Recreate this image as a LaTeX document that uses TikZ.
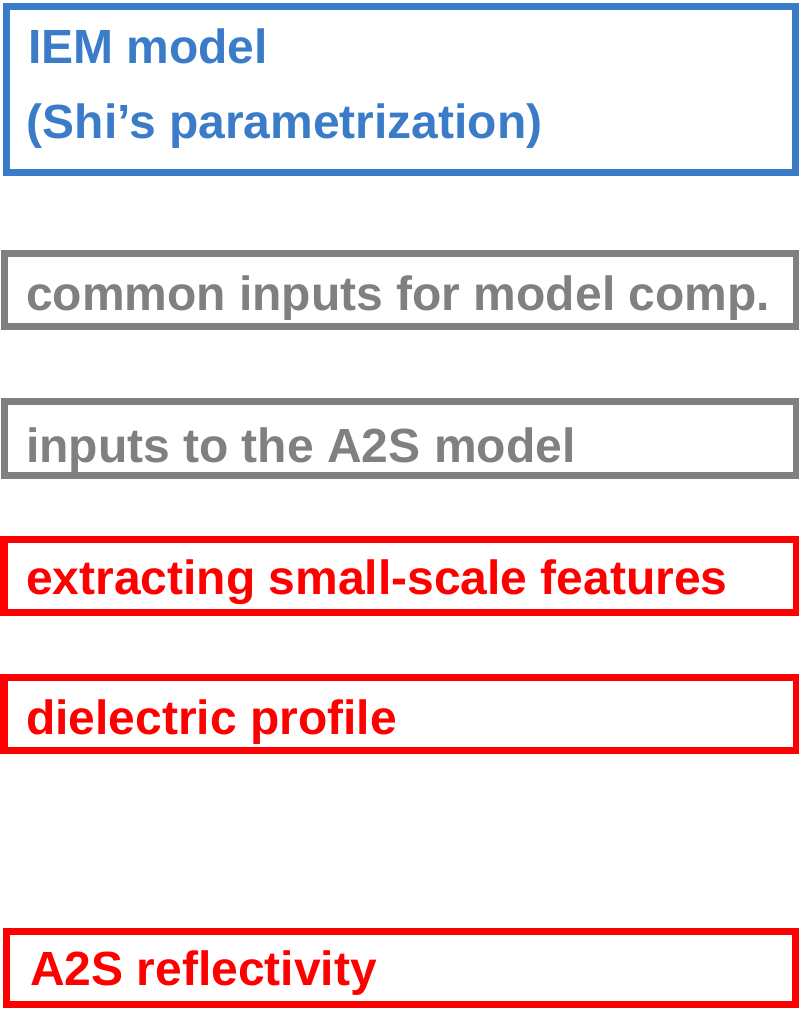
\documentclass[tikz,border=0pt]{standalone}
\usepackage{fontspec}
\setmainfont{Liberation Sans}
\definecolor{iemblue}{RGB}{59,124,200}
\definecolor{inputgray}{RGB}{128,128,128}
\definecolor{stepred}{RGB}{255,0,0}
\begin{document}
\begin{tikzpicture}[x=1pt,y=-1pt,
  frame/.style={draw=#1, line width=7pt, rectangle, inner sep=0pt, outer sep=0pt},
  label text/.style={text=#1, anchor=base west, inner sep=0pt, outer sep=0pt,
    font=\fontsize{48}{58}\selectfont\bfseries}]
  \useasboundingbox (0,0) rectangle (798,1009);

  % model boxes
  \node[frame=iemblue, minimum width=789pt, minimum height=166pt] (iem) at (400.5,89.5) {};
  \node[frame=inputgray, minimum width=791.5pt, minimum height=73pt] (common) at (400.25,290) {};
  \node[frame=inputgray, minimum width=791.5pt, minimum height=73.5pt] (inputs) at (400.25,438.25) {};
  \node[frame=stepred, minimum width=792pt, minimum height=73pt] (extract) at (400,576) {};
  \node[frame=stepred, minimum width=792pt, minimum height=73pt] (diel) at (400,714) {};
  \node[frame=stepred, minimum width=788.5pt, minimum height=73pt] (refl) at (400.75,968) {};

  % captions
  \node[label text=iemblue] (iemA) at (28,63) {IEM model};
  \node[label text=iemblue] (iemB) at (27,138) {(Shi’s parametrization)};
  \node[label text=inputgray] (commonT) at (26,310) {common inputs for model comp.};
  \node[label text=inputgray] (inputsT) at (26,462) {inputs to the A2S model};
  \node[label text=stepred] (extractT) at (26,594) {extracting small-scale features};
  \node[label text=stepred] (dielT) at (26,734) {dielectric profile};
  \node[label text=stepred] (reflT) at (30,985) {A2S reflectivity};
\end{tikzpicture}
\end{document}
